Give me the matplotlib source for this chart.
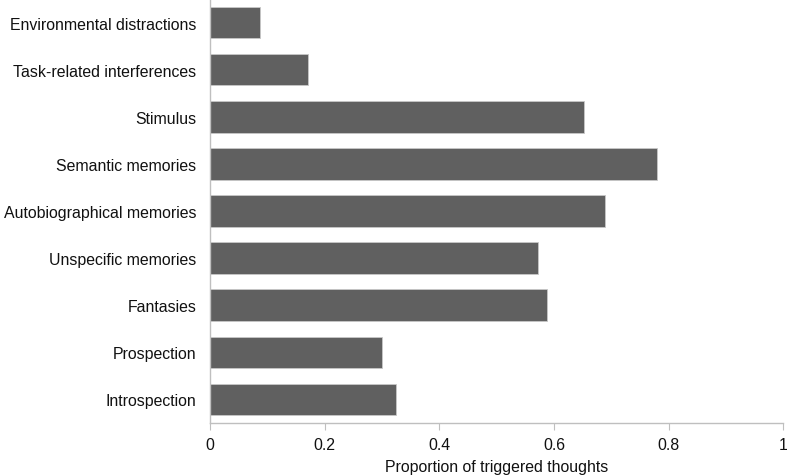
import matplotlib
matplotlib.use("Agg")
import matplotlib.pyplot as plt

categories = [
    "Environmental distractions",
    "Task-related interferences",
    "Stimulus",
    "Semantic memories",
    "Autobiographical memories",
    "Unspecific memories",
    "Fantasies",
    "Prospection",
    "Introspection",
]
proportions = [0.087, 0.171, 0.652, 0.780, 0.689, 0.571, 0.588, 0.300, 0.324]
xticks = [0, 0.2, 0.4, 0.6, 0.8, 1]
xtick_labels = ["0", "0.2", "0.4", "0.6", "0.8", "1"]

plt.rcParams["font.family"] = ["Liberation Sans", "DejaVu Sans"]

fig = plt.figure(figsize=(7.87, 4.77), dpi=100)
ax = fig.add_axes([0.267, 0.111, 0.7285, 0.889])

ypos = list(range(len(categories)))
ax.barh(ypos, proportions, height=0.67, color="#606060",
        edgecolor="#c8c8c8", linewidth=0.6, zorder=2)

ax.set_ylim(len(categories) - 0.5, -0.5)
ax.set_xlim(0, 1)
ax.set_yticks(ypos)
ax.set_yticklabels(categories, fontsize=11.4, color="#111111")
ax.set_xticks(xticks)
ax.set_xticklabels(xtick_labels, fontsize=11.4, color="#111111")
ax.set_xlabel("Proportion of triggered thoughts", fontsize=11.4, color="#111111", labelpad=5)

for side in ("top", "right"):
    ax.spines[side].set_visible(False)
for side in ("left", "bottom"):
    ax.spines[side].set_color("#bfbfbf")
    ax.spines[side].set_linewidth(1.0)
ax.tick_params(axis="y", length=0, pad=10)
ax.tick_params(axis="x", length=5, color="#bfbfbf", pad=5)

fig.savefig("out.png", dpi=100, facecolor="white")
